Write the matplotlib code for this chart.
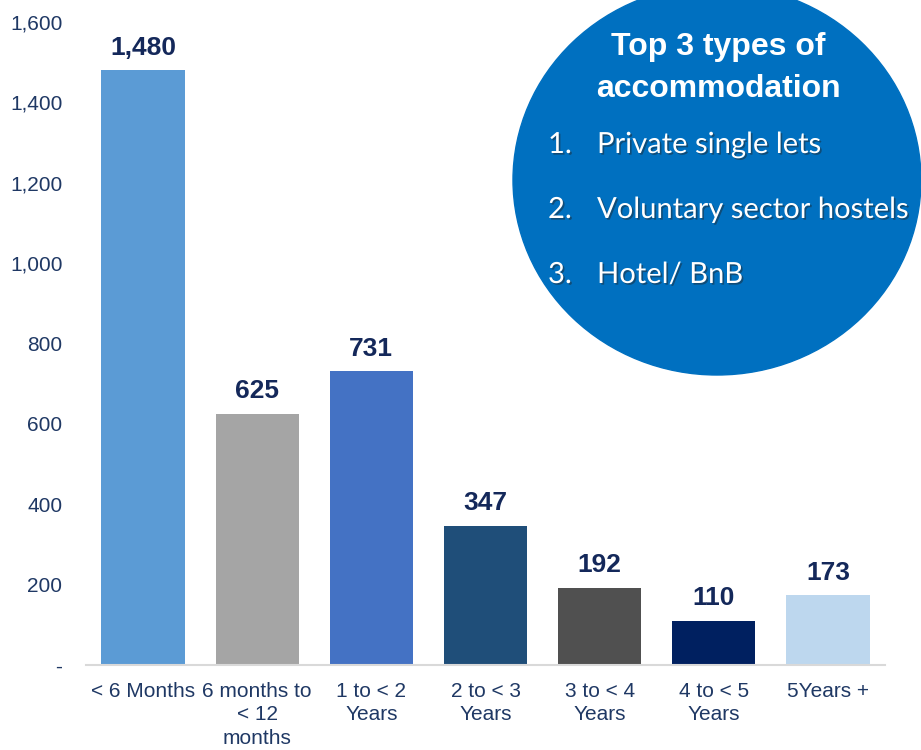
import matplotlib
matplotlib.use('Agg')
from matplotlib import pyplot as plt
from matplotlib import patches
from matplotlib import patheffects as pe

# data
categories = ['< 6 Months', '6 months to\n< 12\nmonths', '1 to < 2\nYears', '2 to < 3\nYears',
              '3 to < 4\nYears', '4 to < 5\nYears', '5Years +']
values = [1480, 625, 731, 347, 192, 110, 173]
bar_colors = ['#5B9BD5', '#A5A5A5', '#4472C4', '#1F4E79', '#505050', '#002060', '#BDD7EE']
yticks = [0, 200, 400, 600, 800, 1000, 1200, 1400, 1600]
ytick_labels = ['-', '200', '400', '600', '800', '1,000', '1,200', '1,400', '1,600']
box_title = 'Top 3 types of\naccommodation'
box_items = ['Private single lets', 'Voluntary sector hostels', 'Hotel/ BnB']

plt.rcParams['font.family'] = ['Liberation Sans', 'DejaVu Sans']
tick_color = '#1F3864'
label_color = '#14285A'

fig = plt.figure(figsize=(9.21, 7.5), dpi=100)
ax = fig.add_axes([86 / 921, 85 / 750, 799 / 921, 643 / 750])

x = list(range(len(values)))
ax.bar(x, values, width=0.73, color=bar_colors)
for xi, v in zip(x, values):
    ax.annotate('{:,}'.format(v), (xi, v), xytext=(0, 7.5), textcoords='offset points',
                ha='center', va='bottom', fontsize=19, fontweight='bold', color=label_color)

ax.set_xlim(-0.5, 6.5)
ax.set_ylim(0, 1600)
ax.set_yticks(yticks)
ax.set_yticklabels(ytick_labels)
ax.set_xticks(x)
ax.set_xticklabels(categories, linespacing=1.32)
ax.tick_params(axis='y', length=0, pad=17, labelsize=15, labelcolor=tick_color)
ax.tick_params(axis='x', length=0, pad=12, labelsize=15, labelcolor=tick_color)
for s in ['top', 'right', 'left']:
    ax.spines[s].set_visible(False)
ax.spines['bottom'].set_color('#D9D9D9')
ax.spines['bottom'].set_linewidth(1.5)

# blue bubble with the top 3 list
ell = patches.Ellipse((717 / 921, 1 - 180 / 750), 408 / 921, 390 / 750,
                      transform=fig.transFigure, color='#0070C0', zorder=5)
fig.add_artist(ell)
fig.text(718 / 921, 1 - 68 / 750, box_title, ha='center', va='center', fontsize=23,
         fontweight='bold', color='white', linespacing=1.48, zorder=6)

shadow = [pe.SimplePatchShadow(offset=(1.2, -1.2), shadow_rgbFace='#222222', alpha=0.45), pe.Normal()]
for i, item in enumerate(box_items):
    y = 1 - (145 + 65 * i) / 750
    n = fig.text(548 / 921, y, '{}.'.format(i + 1), ha='left', va='center', fontsize=21,
                 color='white', family=['Lato', 'DejaVu Sans'], zorder=6)
    t = fig.text(597 / 921, y, item, ha='left', va='center', fontsize=21,
                 color='white', family=['Lato', 'DejaVu Sans'], zorder=6)
    n.set_path_effects(shadow)
    t.set_path_effects(shadow)

fig.savefig('out.png', dpi=100)
